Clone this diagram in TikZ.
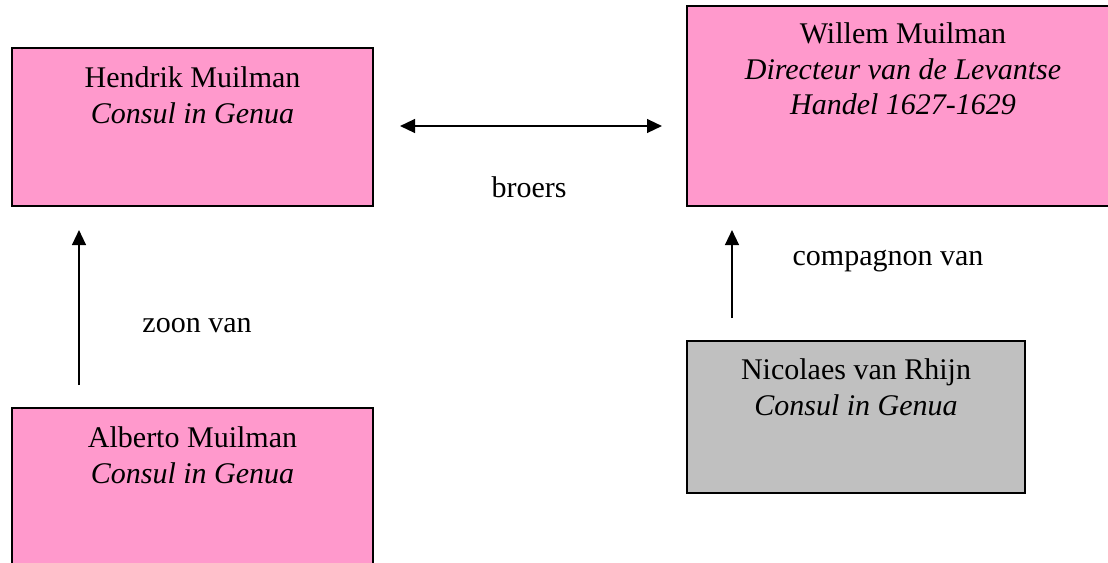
\documentclass[tikz,border=0pt]{standalone}
\usepackage{fontspec}
\setmainfont{Liberation Serif}
\usetikzlibrary{arrows.meta}
\definecolor{pinkfill}{HTML}{FF99CC}
\definecolor{grayfill}{HTML}{C0C0C0}
\tikzset{
  personbox/.style={draw=black, line width=0.8pt, rectangle, anchor=north west, inner sep=0pt},
  boxtext/.style={anchor=north, inner sep=0pt, align=center, font=\fontsize{12}{14.2}\selectfont},
  reltext/.style={anchor=base, inner sep=0pt, font=\fontsize{12}{14.2}\selectfont},
  relarrow/.style={line width=0.8pt, -{Triangle[length=6pt,width=5.5pt]}},
  relboth/.style={line width=0.8pt, {Triangle[length=6pt,width=5.5pt]}-{Triangle[length=6pt,width=5.5pt]}}
}
\begin{document}
\begin{tikzpicture}[x=0.4pt,y=-0.4pt]
\useasboundingbox (0,0) rectangle (1108,562);
\clip (0,0) rectangle (1108,562);
% boxes
\node[personbox, fill=pinkfill, minimum width=144.4pt, minimum height=63.2pt,
  label={[boxtext, yshift=-7.8pt]north:Hendrik Muilman\\\textit{Consul in Genua}}] (hendrik) at (11,47) {};
\node[personbox, fill=pinkfill, minimum width=172.8pt, minimum height=80pt,
  label={[boxtext, yshift=-7pt]north:Willem Muilman\\\textit{Directeur van de Levantse}\\\textit{Handel 1627-1629}}] (willem) at (686,5) {};
\node[personbox, fill=pinkfill, minimum width=144.4pt, minimum height=70pt,
  label={[boxtext, yshift=-7.8pt]north:Alberto Muilman\\\textit{Consul in Genua}}] (alberto) at (11,407) {};
\node[personbox, fill=grayfill, minimum width=135.2pt, minimum height=60.8pt,
  label={[boxtext, yshift=-7.4pt]north:Nicolaes van Rhijn\\\textit{Consul in Genua}}] (nicolaes) at (686,340) {};
% connectors
\draw[relboth, shorten <=10.4pt, shorten >=9.6pt] ([yshift=0.4pt]hendrik.east) -- ([yshift=0.4pt]hendrik.east -| willem.west);
\draw[relarrow, shorten <=8.8pt, shorten >=9.2pt] ([xshift=27.2pt]alberto.north west) -- ([xshift=27.2pt]hendrik.south west);
\draw[relarrow, shorten <=8.8pt, shorten >=9.2pt] ([xshift=18.4pt]nicolaes.north west) -- ([xshift=18.4pt]willem.south west);
% labels
\node[reltext] (broers) at (529,197) {broers};
\node[reltext] (zoon) at (197,332) {zoon van};
\node[reltext] (comp) at (888,265) {compagnon van};
\end{tikzpicture}
\end{document}
